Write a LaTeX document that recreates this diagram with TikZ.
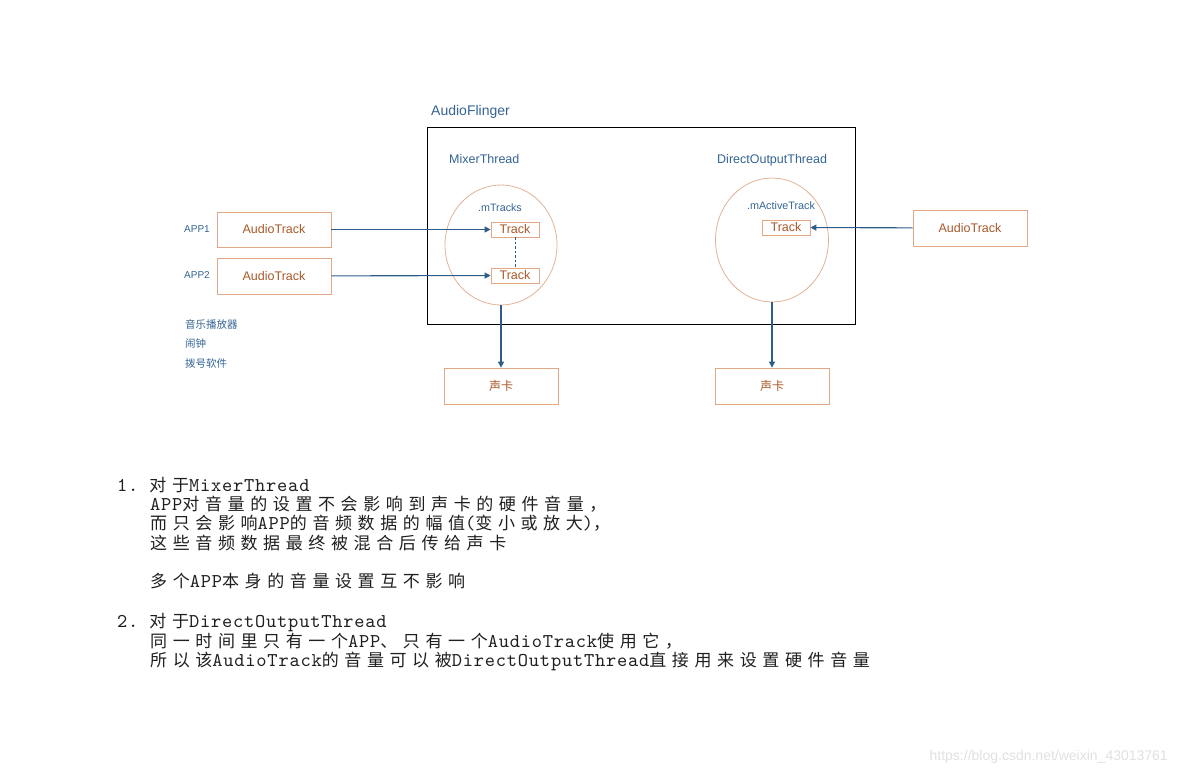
\documentclass[tikz,border=0pt]{standalone}
\usepackage{fontspec}
\setmainfont{Liberation Sans}
\newfontfamily\cjk{Noto Sans CJK SC}
\newfontfamily\notecjk[LetterSpace=33]{Noto Sans CJK SC}
\newfontfamily\notemono[LetterSpace=4]{lmmono10-regular.otf}
\usetikzlibrary{arrows.meta,shapes.geometric}
\definecolor{boxline}{RGB}{224,168,132}
\definecolor{boxtext}{RGB}{168,88,40}
\definecolor{ringline}{RGB}{226,178,150}
\definecolor{tagblue}{RGB}{52,100,148}
\definecolor{flowblue}{RGB}{46,92,136}
\newcommand{\zh}[1]{{\notecjk\fontsize{17}{19}\selectfont #1}}

\begin{document}
\begin{tikzpicture}[x=1pt,y=-1pt,
	appbox/.style={draw=boxline, line width=0.8pt, text=boxtext, minimum width=114pt, minimum height=36pt, inner sep=0, font=\fontsize{12.5}{14}\selectfont},
	trackbox/.style={draw=boxline, line width=0.8pt, text=boxtext, minimum width=48pt, minimum height=15pt, inner sep=0, font=\fontsize{12.5}{14}\selectfont},
	thread/.style={draw=ringline, line width=0.8pt, ellipse, inner sep=0},
	tag/.style={text=tagblue, inner sep=0},
	flow/.style={draw=flowblue, line width=1.1pt, -{Triangle[length=6pt,width=6pt]}},
	note/.style={anchor=base west, inner sep=0, text=black!88, font=\notemono\fontsize{19.5}{21}\selectfont}]
			%%%%% START %%%%%
			\useasboundingbox (0,0) rectangle (1177,775);
			
			\node[draw, line width=1.2pt, minimum width=428pt, minimum height=197pt, anchor=north west, inner sep=0] (flinger) at (427,127) {};
			\node[tag, anchor=west, font=\fontsize{14}{16}\selectfont] (flingername) at (431,112) {AudioFlinger};
			\node[tag, anchor=west, font=\fontsize{12.5}{14}\selectfont] (mixername) at (449,159) {MixerThread};
			\node[tag, anchor=west, font=\fontsize{12.5}{14}\selectfont] (directname) at (717,160) {DirectOutputThread};
			
			\node[thread, minimum width=112pt, minimum height=120pt] (mixer) at (501,245) {};
			\node[thread, minimum width=113pt, minimum height=124pt] (direct) at (772,240) {};
			
			\node[tag, font=\fontsize{10.7}{12}\selectfont] (mtracks) at (500,208) {.mTracks};
			\node[tag, font=\fontsize{10.8}{12}\selectfont] (mactive) at (781,206) {.mActiveTrack};
			
			\node[trackbox] (track1) at (515,229.5) {Track};
			\node[trackbox] (track2) at (515,275.5) {Track};
			\node[trackbox] (track3) at (786,227.5) {Track};
			
			\node[appbox, minimum height=35pt] (app1) at (274,229.5) {AudioTrack};
			\node[appbox] (app2) at (274,276) {AudioTrack};
			\node[appbox] (app3) at (970,228) {AudioTrack};
			
			\node[appbox] (card1) at (501,386) {\cjk\fontsize{12}{14}\selectfont 声卡};
			\node[appbox] (card2) at (772,386) {\cjk\fontsize{12}{14}\selectfont 声卡};
			
			\node[tag, font=\fontsize{10}{12}\selectfont] (app1name) at (197,229) {APP1};
			\node[tag, font=\fontsize{10}{12}\selectfont] (app2name) at (197,275) {APP2};
			
			\node[tag, anchor=west, font=\cjk\fontsize{10.5}{12}\selectfont] (player) at (185,324) {音乐播放器};
			\node[tag, anchor=west, font=\cjk\fontsize{10.5}{12}\selectfont] (alarm) at (185,344) {闹钟};
			\node[tag, anchor=west, font=\cjk\fontsize{10.5}{12}\selectfont] (dialer) at (185,364) {拨号软件};
			
			\draw[flow] (app1) -- (track1);
			\draw[flow] (app2) -- (track2);
			\draw[flow] (app3) -- (track3);
			\draw[flow] (mixer.south) -- (card1.north);
			\draw[flow] (direct.south) -- (card2.north);
			\draw[draw=flowblue, line width=0.8pt, dash pattern=on 2.5pt off 2pt] (track1.south) -- (track2.north);
			
			% notes below the picture
			\node[note] (n1) at (117,491) {1.\ \zh{对于}MixerThread};
			\node[note] (n2) at (150,510) {APP\zh{对音量的设置不会影响到声卡的硬件音量，}};
			\node[note] (n3) at (150,529) {\zh{而只会影响}APP\zh{的音频数据的幅值}(\zh{变小或放大})\zh{，}};
			\node[note] (n4) at (150,549) {\zh{这些音频数据最终被混合后传给声卡}};
			\node[note] (n5) at (150,587) {\zh{多个}APP\zh{本身的音量设置互不影响}};
			\node[note] (n6) at (117,627) {2.\ \zh{对于}DirectOutputThread};
			\node[note] (n7) at (150,647) {\zh{同一时间里只有一个}APP\zh{、只有一个}AudioTrack\zh{使用它，}};
			\node[note] (n8) at (150,666) {\zh{所以该}AudioTrack\zh{的音量可以被}DirectOutputThread\zh{直接用来设置硬件音量}};
			
			\node[text=black!12, anchor=east, inner sep=0, font=\fontsize{14}{16}\selectfont] (mark) at (1168,757) {https://blog.csdn.net/weixin\_43013761};
			%%%%% END %%%%%
\end{tikzpicture}
\end{document}
